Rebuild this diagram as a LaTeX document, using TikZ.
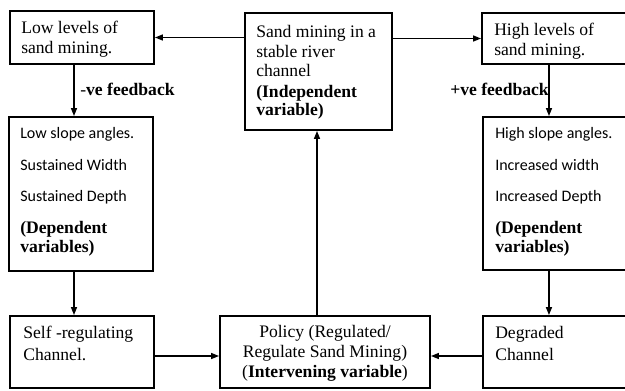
\documentclass[tikz,border=0pt]{standalone}
\usepackage{fontspec}
\setmainfont{Liberation Serif}[BoldFont={Liberation Serif Bold},ItalicFont={Liberation Serif Italic}]
\newfontfamily\calib{Carlito}
\newfontfamily\tnrbold{Liberation Serif Bold}
\usetikzlibrary{arrows.meta,fit}
\begin{document}
\begin{tikzpicture}[x=0.75pt,y=-0.75pt,
  box/.style={draw, line width=1.4pt, rectangle, inner sep=0pt},
  arr/.style={line width=1.1pt, -{Triangle[length=6pt,width=4.5pt]}},
  tx/.style={anchor=base west, inner sep=0pt, font=\fontsize{13.2pt}{15pt}\selectfont},
  bx/.style={tx, font=\fontsize{13.2pt}{15pt}\selectfont\tnrbold},
  cx/.style={tx, font=\fontsize{12pt}{14pt}\selectfont\calib},
  ctx/.style={tx, anchor=base}]
\useasboundingbox (0,0) rectangle (625,390);
\clip (0,0) rectangle (625,390);
% boxes
\node[box, fit={(10,11) (154,64)}] (A) {};
\node[box, fit={(245,13) (392,130)}] (B) {};
\node[box, fit={(482,13) (640,64)}] (C) {};
\node[box, fit={(9,117) (153,271)}] (D) {};
\node[box, fit={(483,117) (640,270)}] (E) {};
\node[box, fit={(10,316) (154,388)}] (G) {};
\node[box, fit={(220,316) (430,388)}] (H) {};
\node[box, fit={(483,316) (640,388)}] (I) {};
% connectors
\draw[arr] (B.west |- A.east) -- (A.east);
\draw[arr] (B.east |- C.west) -- (C.west);
\draw[arr] ([xshift=-6pt]A.south) coordinate (ad) -- (ad |- D.north);
\draw[arr] ([xshift=-5.25pt]D.south) coordinate (dg) -- (dg |- G.north);
\draw[arr] ([xshift=-9pt]C.south) coordinate (ce) -- (ce |- E.north);
\draw[arr] ([xshift=-9.4pt]E.south) coordinate (ei) -- (ei |- I.north);
\draw[arr] ([xshift=-6pt]H.north) coordinate (hb) -- (hb |- B.south);
\draw[arr] ([yshift=-3pt]G.east) coordinate (gh) -- (gh -| H.west);
\draw[arr] ([yshift=-3pt]I.west) coordinate (ih) -- (ih -| H.east);
% texts
\node[tx] (a1) at (21,33) {Low levels of};
\node[tx] (a2) at (21,53) {sand mining.};
\node[tx] (b1) at (256,37) {Sand mining in a};
\node[tx] (b2) at (256,57) {stable river};
\node[tx] (b3) at (256,76) {channel};
\node[bx] (b4) at (256,97) {(Independent};
\node[bx] (b5) at (256,115) {variable)};
\node[tx] (c1) at (494,35) {High levels of};
\node[tx] (c2) at (494,55) {sand mining.};
\node[tx] (l1) at (80,95) {-{\tnrbold ve feedback}};
\node[bx] (l2) at (450,95) {+ve feedback};
\node[cx] (d1) at (20,138) {Low slope angles.};
\node[cx] (d2) at (20,170) {Sustained Width};
\node[cx] (d3) at (20,201) {Sustained Depth};
\node[bx] (d4) at (20,233) {(Dependent};
\node[bx] (d5) at (20,252) {variables)};
\node[cx] (e1) at (495,138) {High slope angles.};
\node[cx] (e2) at (495,170) {Increased width};
\node[cx] (e3) at (495,201) {Increased Depth};
\node[bx] (e4) at (495,233) {(Dependent};
\node[bx] (e5) at (495,252) {variables)};
\node[tx] (g1) at (23,338) {Self -regulating};
\node[tx] (g2) at (23,360) {Channel.};
\node[ctx] (h1) at (325,337) {Policy (Regulated/};
\node[ctx] (h2) at (325,357) {Regulate Sand Mining)};
\node[ctx] (h3) at (325,377) {({\tnrbold Intervening variable})};
\node[tx] (i1) at (495,338) {Degraded};
\node[tx] (i2) at (495,360) {Channel};
\end{tikzpicture}
\end{document}
